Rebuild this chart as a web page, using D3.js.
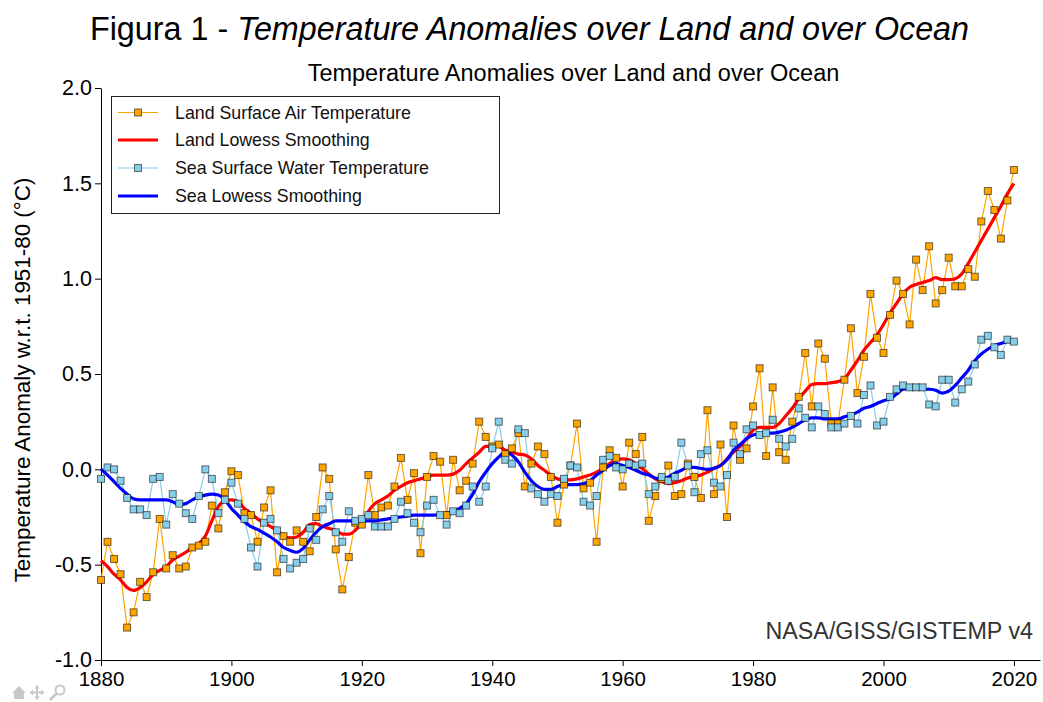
<!DOCTYPE html>
<html><head><meta charset="utf-8">
<script src="https://cdn.jsdelivr.net/npm/d3@7"></script>
<style>
html,body{margin:0;padding:0;background:#fff;}
svg{display:block;font-family:"Liberation Sans",Arial,sans-serif;}
</style></head>
<body>
<svg id="chart" width="1043" height="702"></svg>
<script>
const firstYear = 1880, lastYear = 2020;
const years = d3.range(firstYear, lastYear + 1);

const landValues = [
-0.58,-0.38,-0.47,-0.55,-0.83,-0.75,-0.59,-0.67,-0.54,-0.26,
-0.52,-0.45,-0.52,-0.51,-0.41,-0.40,-0.38,-0.19,-0.31,-0.12,
-0.01,-0.03,-0.23,-0.24,-0.38,-0.20,-0.11,-0.54,-0.35,-0.38,
-0.32,-0.38,-0.43,-0.25,0.01,-0.05,-0.42,-0.63,-0.46,-0.28,
-0.29,-0.03,-0.24,-0.20,-0.19,-0.09,0.06,-0.16,-0.02,-0.44,
-0.04,0.07,0.04,-0.24,0.05,-0.11,-0.06,0.03,0.25,0.17,
0.12,0.13,0.08,0.11,0.19,-0.09,0.03,0.12,0.08,-0.04,
-0.28,-0.08,0.02,0.24,-0.10,-0.07,-0.38,0.01,0.10,0.06,
-0.09,0.14,0.08,0.17,-0.27,-0.14,-0.05,0.02,-0.14,-0.13,
0.03,-0.04,-0.15,0.31,-0.13,0.13,-0.25,0.23,0.05,0.11,
0.33,0.53,0.07,0.43,0.09,0.05,0.25,0.38,0.61,0.33,
0.66,0.58,0.24,0.24,0.47,0.74,0.40,0.59,0.92,0.69,
0.61,0.81,0.99,0.92,0.76,1.10,0.94,1.17,0.87,0.94,
1.11,0.96,0.96,1.05,1.01,1.30,1.46,1.36,1.21,1.41,
1.57];

const landLowess = [
-0.48,-0.51,-0.55,-0.58,-0.62,-0.635,-0.62,-0.59,-0.55,-0.53,
-0.51,-0.475,-0.455,-0.435,-0.41,-0.39,-0.35,-0.27,-0.195,-0.165,
-0.16,-0.17,-0.205,-0.23,-0.26,-0.28,-0.30,-0.32,-0.35,-0.36,
-0.355,-0.33,-0.29,-0.285,-0.30,-0.31,-0.32,-0.34,-0.34,-0.32,
-0.28,-0.22,-0.18,-0.16,-0.14,-0.11,-0.09,-0.07,-0.06,-0.05,
-0.04,-0.03,-0.03,-0.03,-0.025,-0.005,0.03,0.06,0.09,0.12,
0.12,0.12,0.10,0.09,0.08,0.075,0.055,0.02,-0.005,-0.03,
-0.05,-0.055,-0.055,-0.05,-0.04,-0.03,-0.015,0.005,0.03,0.05,
0.055,0.05,0.03,0.005,-0.025,-0.05,-0.065,-0.075,-0.07,-0.06,
-0.045,-0.04,-0.03,-0.015,0.005,0.02,0.055,0.09,0.12,0.16,
0.205,0.22,0.22,0.22,0.24,0.28,0.32,0.37,0.41,0.445,
0.45,0.45,0.455,0.46,0.475,0.52,0.57,0.625,0.665,0.705,
0.76,0.82,0.87,0.92,0.955,0.97,0.98,0.99,1.005,0.995,
0.995,1.0,1.025,1.08,1.14,1.20,1.26,1.32,1.38,1.445,
1.50];

const seaValues = [
-0.05,0.01,0.00,-0.06,-0.15,-0.21,-0.21,-0.24,-0.05,-0.04,
-0.29,-0.13,-0.18,-0.23,-0.26,-0.14,0.00,-0.05,-0.23,-0.16,
-0.07,-0.18,-0.26,-0.41,-0.51,-0.28,-0.26,-0.32,-0.47,-0.52,
-0.49,-0.47,-0.31,-0.37,-0.21,-0.14,-0.33,-0.38,-0.22,-0.27,
-0.26,-0.24,-0.30,-0.30,-0.30,-0.26,-0.17,-0.23,-0.28,-0.33,
-0.19,-0.16,-0.24,-0.29,-0.22,-0.23,-0.19,-0.09,-0.17,-0.09,
0.11,0.25,0.05,0.03,0.21,0.19,-0.10,-0.13,-0.17,-0.13,
-0.14,-0.05,0.02,0.01,-0.17,-0.19,-0.14,0.05,0.07,0.01,
0.00,0.03,0.02,0.03,-0.13,-0.09,-0.04,-0.06,-0.04,0.14,
0.02,-0.12,0.08,0.10,-0.07,-0.09,-0.03,0.14,0.08,0.21,
0.23,0.18,0.19,0.26,0.16,0.12,0.16,0.32,0.27,0.22,
0.33,0.29,0.22,0.22,0.24,0.28,0.24,0.39,0.44,0.23,
0.25,0.38,0.42,0.44,0.43,0.43,0.43,0.34,0.33,0.47,
0.47,0.35,0.42,0.46,0.55,0.68,0.70,0.64,0.60,0.68,
0.67];

const seaLowess = [
0.0,-0.03,-0.065,-0.10,-0.13,-0.155,-0.16,-0.16,-0.16,-0.16,
-0.16,-0.17,-0.185,-0.18,-0.16,-0.145,-0.135,-0.13,-0.135,-0.16,
-0.205,-0.24,-0.275,-0.30,-0.315,-0.335,-0.355,-0.38,-0.41,-0.425,
-0.435,-0.415,-0.37,-0.33,-0.30,-0.285,-0.27,-0.27,-0.27,-0.27,
-0.27,-0.27,-0.27,-0.265,-0.26,-0.255,-0.25,-0.245,-0.24,-0.24,
-0.24,-0.24,-0.235,-0.23,-0.22,-0.205,-0.18,-0.13,-0.065,-0.015,
0.03,0.065,0.09,0.075,0.04,-0.015,-0.06,-0.09,-0.105,-0.105,
-0.09,-0.08,-0.08,-0.08,-0.075,-0.06,-0.03,-0.005,0.02,0.03,
0.02,0.01,-0.005,-0.02,-0.03,-0.045,-0.05,-0.04,-0.02,-0.005,
0.01,0.01,0.005,0.0,0.005,0.02,0.05,0.10,0.13,0.16,
0.18,0.185,0.19,0.19,0.195,0.205,0.22,0.24,0.26,0.27,
0.27,0.265,0.265,0.265,0.275,0.285,0.30,0.32,0.33,0.345,
0.36,0.37,0.395,0.42,0.425,0.42,0.42,0.42,0.415,0.40,
0.41,0.44,0.48,0.52,0.57,0.605,0.63,0.65,0.66,0.67,
0.67];

const xTicks = [1880, 1900, 1920, 1940, 1960, 1980, 2000, 2020];
const yTicks = [-1.0, -0.5, 0.0, 0.5, 1.0, 1.5, 2.0];
const yTickLabels = ["-1.0", "-0.5", "0.0", "0.5", "1.0", "1.5", "2.0"];
const legendLabels = ["Land Surface Air Temperature","Land Lowess Smoothing","Sea Surface Water Temperature","Sea Lowess Smoothing"];

const svg = d3.select("#chart");
const x = d3.scaleLinear().domain([1880, 2024]).range([101, 1040]);
const y = d3.scaleLinear().domain([-1, 2]).range([660, 88]);

// Titles
const t = svg.append("text").attr("x", 529.5).attr("y", 40).attr("text-anchor", "middle")
  .attr("font-size", 32.3).attr("fill", "#000");
t.append("tspan").text("Figura 1 - ");
t.append("tspan").attr("font-style", "italic").text("Temperature Anomalies over Land and over Ocean");

svg.append("text").attr("x", 573.5).attr("y", 81).attr("text-anchor", "middle")
  .attr("font-size", 23.5).attr("fill", "#000").text("Temperature Anomalies over Land and over Ocean");

// Axes
const xAxis = d3.axisBottom(x).tickValues(xTicks).tickFormat(d3.format("d")).tickSize(6).tickSizeOuter(0);
const gx = svg.append("g").attr("transform", "translate(0,660)").call(xAxis);
gx.select(".domain").attr("stroke", "#000");
gx.selectAll("text").attr("font-size", 20.5).attr("fill", "#000").attr("font-family", "Liberation Sans, Arial, sans-serif").attr("dy", "0.85em");

const yAxis = d3.axisLeft(y).tickValues(yTicks).tickFormat((d, i) => yTickLabels[i]).tickSize(6).tickSizeOuter(0);
const gy = svg.append("g").attr("transform", "translate(101,0)").call(yAxis);
gy.select(".domain").attr("stroke", "#000");
gy.selectAll("text").attr("font-size", 21.5).attr("fill", "#000").attr("font-family", "Liberation Sans, Arial, sans-serif");

svg.append("text").attr("transform", "translate(30,380) rotate(-90)").attr("text-anchor", "middle")
  .attr("font-size", 22.4).attr("fill", "#000").text("Temperature Anomaly w.r.t. 1951-80 (°C)");

// Data
const landData = years.map((yr, i) => ({yr, v: landValues[i]}));
const seaData = years.map((yr, i) => ({yr, v: seaValues[i]}));
const landSm = years.map((yr, i) => ({yr, v: landLowess[i]}));
const seaSm = years.map((yr, i) => ({yr, v: seaLowess[i]}));

const line = d3.line().x(d => x(d.yr)).y(d => y(d.v));
const smooth = d3.line().x(d => x(d.yr)).y(d => y(d.v)).curve(d3.curveMonotoneX);

const plot = svg.append("g");
plot.append("path").datum(landData).attr("d", line).attr("fill", "none").attr("stroke", "#FFA500").attr("stroke-width", 1.2);
plot.append("path").datum(seaData).attr("d", line).attr("fill", "none").attr("stroke", "#87CEEB").attr("stroke-width", 1.2);
plot.append("path").datum(landSm).attr("d", smooth).attr("fill", "none").attr("stroke", "#FF0000").attr("stroke-width", 3.2);
plot.append("path").datum(seaSm).attr("d", smooth).attr("fill", "none").attr("stroke", "#0000FF").attr("stroke-width", 3.2);

const ms = 7;
plot.selectAll("rect.land").data(landData).join("rect").attr("class", "land")
  .attr("x", d => x(d.yr) - ms/2).attr("y", d => y(d.v) - ms/2).attr("width", ms).attr("height", ms)
  .attr("fill", "#FFA500").attr("stroke", "#000").attr("stroke-opacity", 0.55).attr("stroke-width", 1);
plot.selectAll("rect.sea").data(seaData).join("rect").attr("class", "sea")
  .attr("x", d => x(d.yr) - ms/2).attr("y", d => y(d.v) - ms/2).attr("width", ms).attr("height", ms)
  .attr("fill", "#87CEEB").attr("stroke", "#000").attr("stroke-opacity", 0.55).attr("stroke-width", 1);

// Legend
const lg = svg.append("g");
lg.append("rect").attr("x", 111.5).attr("y", 96.5).attr("width", 388).attr("height", 117)
  .attr("fill", "#fff").attr("stroke", "#222").attr("stroke-width", 1);
const rowsY = [112.5, 140, 168, 196];
const legendStyles = [
  {stroke: "#FFA500", w: 1.2, marker: "#FFA500"},
  {stroke: "#FF0000", w: 3.2, marker: null},
  {stroke: "#87CEEB", w: 1.2, marker: "#87CEEB"},
  {stroke: "#0000FF", w: 3.2, marker: null}
];
legendLabels.forEach((lab, i) => {
  const s = legendStyles[i], yy = rowsY[i];
  lg.append("line").attr("x1", 118).attr("x2", 158).attr("y1", yy).attr("y2", yy)
    .attr("stroke", s.stroke).attr("stroke-width", s.w);
  if (s.marker) lg.append("rect").attr("x", 138 - ms/2).attr("y", yy - ms/2).attr("width", ms).attr("height", ms)
    .attr("fill", s.marker).attr("stroke", "#000").attr("stroke-opacity", 0.55);
  lg.append("text").attr("x", 175).attr("y", yy).attr("dy", "0.35em").attr("font-size", 17.8)
    .attr("fill", "#111").text(lab);
});

// Source note
svg.append("text").attr("x", 1033).attr("y", 639).attr("text-anchor", "end").attr("font-size", 23.3)
  .attr("fill", "#333").text("NASA/GISS/GISTEMP v4");

// mpld3-like toolbar icons
const tb = svg.append("g").attr("fill", "#c8c8c8").attr("stroke", "#c8c8c8");
tb.append("path").attr("d", "M12,693 L19,686 L26,693 L24,693 L24,699 L14,699 L14,693 Z").attr("stroke", "none");
tb.append("path").attr("d", "M30,692.5 H44 M37,685.5 V699.5").attr("stroke-width", 2).attr("fill", "none");
tb.append("path").attr("d", "M30,692.5 l3,-3 v6 z M44,692.5 l-3,-3 v6 z M37,685.5 l-3,3 h6 z M37,699.5 l-3,-3 h6 z").attr("stroke", "none");
tb.append("circle").attr("cx", 60).attr("cy", 690).attr("r", 4.5).attr("fill", "none").attr("stroke-width", 2);
tb.append("path").attr("d", "M56.5,693.5 L50,700").attr("stroke-width", 3).attr("fill", "none");
</script>
</body></html>
